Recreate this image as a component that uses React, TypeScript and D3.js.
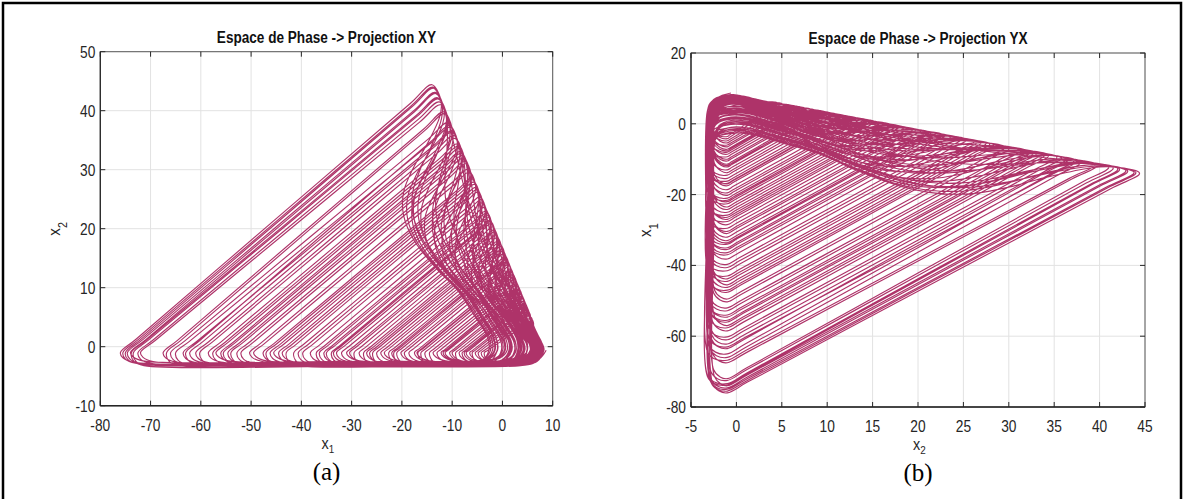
import React, { useMemo } from "react";
import * as d3 from "d3";

// Trajectory, loop by loop: leftmost x1 of the floor turn, peak x2, and how deep
// the return branch folds back (0 = runs down the outer edge, 1 = full fold).
const loopMinX1 = [-76, -34, -12.2, -55.5, -22, -73.4, -6.5, -44.5, -28.5, -63, -17, -75, -38.2, -9.3, -50.3, -25, -67.5, -14.5, -31, -57.6, -4.8, -41.5, -20.2, -74.6, -27, -60.2, -11.4, -36.4, -47.6, -16.2, -72, -8, -33, -54, -23.5, -66, -13, -43, -30.4, -75.5, -18.6, -6, -49.5, -39.7, -62.2, -25.8, -10.5, -35.5, -58.5, -21, -74, -15.4, -46.2, -27.6, -7.2, -52, -32, -65, -11.8, -40.6, -19.5, -73.8, -24.2, -56, -8.6, -37, -45.5, -16.8, -61, -29.5, -5.4, -72.5, -43.8, -22.6, -13.8, -52.8, -33.6, -66.8, -17.5, -26.4, -7.6, -47, -57, -35, -63.5, -21.6, -10, -54.6, -4.2, -3.6];
const loopPeakX2 = [44.4, 21.4, 9.8, 32.8, 15.0, 42.0, 6.7, 27.0, 18.5, 37.5, 12.3, 43.8, 23.6, 8.2, 30.1, 16.6, 39.8, 11.0, 19.8, 34.0, 5.8, 25.4, 14.0, 43.1, 17.7, 35.3, 9.3, 22.7, 28.6, 11.9, 41.0, 7.5, 20.9, 32.0, 15.8, 38.0, 10.2, 26.2, 19.5, 44.0, 13.2, 6.5, 29.6, 24.4, 36.4, 17.0, 8.9, 22.2, 34.4, 14.5, 42.9, 11.5, 27.9, 18.0, 7.1, 31.0, 20.3, 37.2, 9.6, 24.9, 13.7, 42.2, 16.2, 33.1, 7.8, 23.0, 27.5, 12.2, 35.8, 19.0, 6.1, 41.5, 26.6, 15.3, 10.6, 31.4, 21.2, 39.5, 12.6, 17.3, 7.3, 28.3, 33.6, 21.9, 36.6, 14.8, 8.6, 32.4, 5.0, 4.5];
const loopFold = [1, 0.4, 0.6, 0.8, 0.2, 0.9, 0.3, 0.7, 0.9, 1, 0.5, 0.2, 0.6, 0.8, 0.3, 0.7, 0.95, 0.1, 0.8, 0.5, 0.6, 0.9, 0.4, 1, 0.2, 0.85, 0.3, 1, 0.6, 0.9, 0.7, 0.5, 0.1, 1, 0.6, 0.3, 0.8, 0.4, 0.6, 0.9, 0.7, 0.9, 0.9, 0.3, 0.6, 1, 0.4, 0.5, 1, 0.8, 0.5, 0.3, 1, 0.5, 0.7, 0.2, 0.7, 0.9, 0.9, 0.8, 0.2, 0.95, 0.4, 0.7, 0.2, 0.8, 0.2, 0.6, 0.4, 0.3, 0.4, 1, 0.9, 0.9, 0.5, 0.9, 0.9, 0.8, 0.3, 0.8, 0.1, 0.5, 0.3, 0.2, 0.75, 0.5, 0.7, 0.6, 0.8, 0.5];
// x2 level of the floor run for successive loops
const floorLevels = [-2.6, -3.0, -2.4, -2.9, -2.7, -3.2, -2.5, -2.8];

// Return branch of the largest loop (peak x2 = 44), sampled by x2 level:
// the folded path and the outer-edge path.
const returnLevels = [44, 41, 38.6, 34, 30, 26, 22, 17.8, 13, 9.5, 5, 1.5];
const foldX1 = [-14, -12.2, -12.5, -15, -17.7, -19.6, -19.6, -17.5, -13, -9, -5.5, -3];
const edgeX1 = [-14, -12.2, -10.8, -8.5, -6.5, -4.5, -2.5, -0.5, 2, 3.8, 6.2, 8.3];

const ticksA_x = [-80, -70, -60, -50, -40, -30, -20, -10, 0, 10];
const ticksA_y = [-10, 0, 10, 20, 30, 40, 50];
const ticksB_x = [-5, 0, 5, 10, 15, 20, 25, 30, 35, 40, 45];
const ticksB_y = [-80, -60, -40, -20, 0, 20];

const LINE = "#ae3369";
const AXIS = "#262626";
const GRID = "#e2e2e2";
const SANS = "'Liberation Sans', Arial, Helvetica, sans-serif";
const SERIF = "'Liberation Serif', 'Times New Roman', serif";

type P2 = [number, number];

function buildTrajectory(): P2[] {
  const pts: P2[] = [];
  const refTop = returnLevels[0];
  const refX = foldX1[0];
  let landing = 8.5;
  loopMinX1.forEach((L, i) => {
    const Hk = loopPeakX2[i];
    const Pk = 8.2 - 0.5 * Hk;
    const s = Hk / refTop;
    const w = loopFold[i];
    const b = floorLevels[i % floorLevels.length];
    // down to the floor and along it to the left
    pts.push([landing + 0.2, -0.6]);
    const fStart = landing - 1.2;
    const fEnd = Math.min(L + 2.5, fStart - 0.6);
    pts.push([fStart, b + 0.5]);
    if (fStart - fEnd > 8) {
      pts.push([fStart - 2.8, b]);
      pts.push([(fStart + fEnd) / 2, b - 0.1]);
    }
    pts.push([fEnd, b]);
    pts.push([L + 0.5, b + 0.7]);
    pts.push([L, -1]);
    // straight climb to the peak
    [0.05, 0.5, 0.93].forEach((t) => pts.push([L + t * (Pk - L), -1 + t * (Hk + 1)]));
    pts.push([Pk, Hk]);
    // return branch, blend of outer edge and fold, scaled to this loop
    for (let j = 1; j < returnLevels.length; j++) {
      const off = (1 - w) * (edgeX1[j] - refX) + w * (foldX1[j] - refX);
      pts.push([Pk + s * off, returnLevels[j] * s]);
    }
    landing = pts[pts.length - 1][0];
  });
  return pts;
}

type PanelProps = {
  left: number; right: number; top: number; bottom: number;
  xDomain: [number, number]; yDomain: [number, number];
  xTicks: number[]; yTicks: number[];
  data: P2[]; id: string; title: string;
  xSub: string; ySub: string; tag: string;
};

function Panel(p: PanelProps) {
  const x = d3.scaleLinear().domain(p.xDomain).range([p.left, p.right]);
  const y = d3.scaleLinear().domain(p.yDomain).range([p.bottom, p.top]);
  const line = d3.line<P2>().x((d) => x(d[0])).y((d) => y(d[1])).curve(d3.curveCatmullRom.alpha(0.5));
  const cx = (p.left + p.right) / 2;
  const cy = (p.top + p.bottom) / 2;
  const tick = 5;
  return (
    <g>
      <defs>
        <clipPath id={p.id}>
          <rect x={p.left} y={p.top} width={p.right - p.left} height={p.bottom - p.top} />
        </clipPath>
      </defs>
      <rect x={p.left} y={p.top} width={p.right - p.left} height={p.bottom - p.top} fill="#fff" />
      {p.xTicks.map((t) => (
        <line key={"gx" + t} x1={x(t)} x2={x(t)} y1={p.top} y2={p.bottom} stroke={GRID} strokeWidth={1} />
      ))}
      {p.yTicks.map((t) => (
        <line key={"gy" + t} x1={p.left} x2={p.right} y1={y(t)} y2={y(t)} stroke={GRID} strokeWidth={1} />
      ))}
      <path d={line(p.data) || ""} fill="none" stroke={LINE} strokeWidth={1.15} strokeLinejoin="round" clipPath={`url(#${p.id})`} />
      <rect x={p.left} y={p.top} width={p.right - p.left} height={p.bottom - p.top} fill="none" stroke="#5a5a5a" strokeWidth={1} />
      <line x1={p.left} x2={p.right} y1={p.bottom} y2={p.bottom} stroke={AXIS} strokeWidth={1.4} />
      <line x1={p.left} x2={p.left} y1={p.top} y2={p.bottom} stroke={AXIS} strokeWidth={1.2} />
      {p.xTicks.map((t) => (
        <g key={"tx" + t}>
          <line x1={x(t)} x2={x(t)} y1={p.bottom} y2={p.bottom - tick} stroke={AXIS} />
          <line x1={x(t)} x2={x(t)} y1={p.top} y2={p.top + tick} stroke={AXIS} />
          <text transform={`translate(${x(t)},${p.bottom + 25}) scale(0.86,1)`} textAnchor="middle" fontFamily={SANS} fontSize={16} fill={AXIS}>{t}</text>
        </g>
      ))}
      {p.yTicks.map((t) => (
        <g key={"ty" + t}>
          <line x1={p.left} x2={p.left + tick} y1={y(t)} y2={y(t)} stroke={AXIS} />
          <line x1={p.right} x2={p.right - tick} y1={y(t)} y2={y(t)} stroke={AXIS} />
          <text transform={`translate(${p.left - 5},${y(t) + 6}) scale(0.86,1)`} textAnchor="end" fontFamily={SANS} fontSize={16} fill={AXIS}>{t}</text>
        </g>
      ))}
      <text transform={`translate(${cx},${p.top - 9}) scale(0.8,1)`} textAnchor="middle" fontFamily={SANS} fontSize={17} fontWeight="bold" fill="#111">{p.title}</text>
      <text transform={`translate(${cx - 5},${p.bottom + 43}) scale(0.9,1)`} fontFamily={SANS} fontSize={16} fill={AXIS}>
        x<tspan dy={4} fontSize={11}>{p.xSub}</tspan>
      </text>
      <text transform={`translate(${p.left - 40},${cy + 7}) rotate(-90) scale(0.9,1)`} fontFamily={SANS} fontSize={17} fill={AXIS}>
        x<tspan dy={7} fontSize={12}>{p.ySub}</tspan>
      </text>
      <text x={cx} y={p.bottom + 74} textAnchor="middle" fontFamily={SERIF} fontSize={25} fill="#000">{p.tag}</text>
    </g>
  );
}

export default function App() {
  const traj = useMemo(buildTrajectory, []);
  const swapped = useMemo(() => traj.map((d) => [d[1], d[0]] as P2), [traj]);
  return (
    <svg width={1184} height={499} style={{ position: "absolute", left: 0, top: 0, background: "#fff" }}>
      <rect x={0} y={0} width={1184} height={499} fill="#fff" />
      <Panel left={100.3} right={552.7} top={51.7} bottom={405.7} xDomain={[-80, 10]} yDomain={[-10, 50]}
        xTicks={ticksA_x} yTicks={ticksA_y} data={traj} id="clipA" title="Espace de Phase -> Projection XY"
        xSub="1" ySub="2" tag="(a)" />
      <Panel left={691} right={1145} top={53} bottom={407} xDomain={[-5, 45]} yDomain={[-80, 20]}
        xTicks={ticksB_x} yTicks={ticksB_y} data={swapped} id="clipB" title="Espace de Phase -> Projection YX"
        xSub="2" ySub="1" tag="(b)" />
      <path d="M3,499 V3 H1181 V499" fill="none" stroke="#000" strokeWidth={2.5} />
    </svg>
  );
}
